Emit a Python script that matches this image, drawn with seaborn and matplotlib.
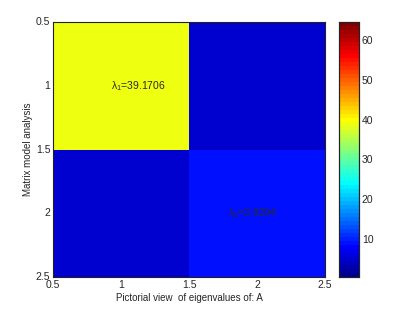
import seaborn as sns
import numpy as np
import pandas as pd
import matplotlib.pyplot as plt
from matplotlib.colors import ListedColormap

# colour levels of the 2x2 picture
levels = [[39.2, 5.0],
          [5.0, 9.0]]
eig_labels = ["$\\lambda_1$=39.1706", "$\\lambda_2$=3.8294"]
eig_pos = [(0.93, 1.0), (1.79, 2.0)]
tick_vals = [0.5, 1, 1.5, 2, 2.5]
cbar_ticks = [10, 20, 30, 40, 50, 60]


def matlab_jet(m=64):
    # same construction as matlab's jet(m)
    n = int(np.ceil(m / 4))
    u = np.concatenate([np.arange(1, n + 1) / n, np.ones(n - 1), np.arange(n, 0, -1) / n])
    g = int(np.ceil(n / 2)) - (1 if m % 4 == 1 else 0) + np.arange(1, len(u) + 1)
    r = g + n
    b = g - n
    cols = np.zeros((m, 3))
    for idx, ch in ((r, 0), (g, 1), (b, 2)):
        ok = idx <= m
        ok &= idx >= 1
        cols[idx[ok] - 1, ch] = u[ok]
    return ListedColormap(cols)


sns.set_style("white")
plt.rcParams['font.family'] = ['Liberation Sans', 'DejaVu Sans']
plt.rcParams['mathtext.fontset'] = 'custom'
plt.rcParams['mathtext.rm'] = 'Liberation Sans'
plt.rcParams['mathtext.it'] = 'Liberation Sans'

fig = plt.figure(figsize=(4.15, 3.13), dpi=100)
ax = fig.add_axes([0.1277, 0.115, 0.6554, 0.8147])
cax = fig.add_axes([0.8169, 0.115, 0.048, 0.8147])

df = pd.DataFrame(levels)
sns.heatmap(df, ax=ax, cbar_ax=cax, cmap=matlab_jet(64),
            vmin=0.5, vmax=64.5, cbar_kws={'ticks': cbar_ticks})

# map matlab coordinates (0.5..2.5) onto heatmap cells (0..2)
pos = [v - 0.5 for v in tick_vals]
labs = [('%g' % v) for v in tick_vals]
ax.set_xticks(pos)
ax.set_xticklabels(labs, rotation=0)
ax.set_yticks(pos)
ax.set_yticklabels(labs, rotation=0)
ax.tick_params(direction='in', top=True, right=True, length=3, width=0.6,
               labelsize=7.5, pad=2, color='#444444')
for s in ax.spines.values():
    s.set_visible(True)
    s.set_linewidth(0.8)
    s.set_color('#222222')

for (x, y), t in zip(eig_pos, eig_labels):
    ax.text(x - 0.5, y - 0.5, t, fontsize=7.5, color='#2a2a2a', ha='left', va='center')

ax.set_xlabel("Pictorial view  of eigenvalues of: A", fontsize=7, labelpad=2)
ax.set_ylabel("Matrix model analysis", fontsize=7, labelpad=2)

cax.tick_params(direction='in', left=True, right=True, length=3, width=0.6,
                labelsize=7.5, pad=2, color='#444444')
for s in cax.spines.values():
    s.set_visible(True)
    s.set_linewidth(0.8)
    s.set_color('#222222')

fig.savefig("out.png", dpi=100)
